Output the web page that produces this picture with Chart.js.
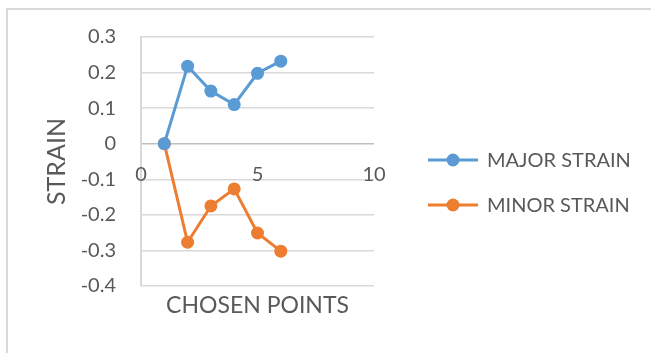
<!DOCTYPE html>
<html>
<head>
<meta charset="utf-8">
<script src="https://cdn.jsdelivr.net/npm/chart.js@4"></script>
<style>
  html, body { margin: 0; padding: 0; background: #fff; }
  #wrap { position: relative; width: 651px; height: 353px; overflow: hidden; }
  #frame { position: absolute; left: 6px; top: 8px; width: 700px; height: 400px;
           border-left: 2px solid #d9d9d9; border-top: 2px solid #d9d9d9; }
  canvas { position: absolute; left: 0; top: 0; }
</style>
</head>
<body>
<div id="wrap">
  <div id="frame"></div>
  <canvas id="chart" width="651" height="353"></canvas>
</div>
<script>
// data
const points = [1, 2, 3, 4, 5, 6];
const majorStrain = [0, 0.218, 0.148, 0.110, 0.198, 0.232];
const minorStrain = [0, -0.277, -0.175, -0.127, -0.251, -0.302];
const xTicks = [0, 5, 10];
const seriesNames = ['MAJOR STRAIN', 'MINOR STRAIN'];

const FONT = 'Lato, "Open Sans", sans-serif';
const TEXT = '#595959';
const GRID = '#d9d9d9';

const toXY = (ys)=> points.map((x,i)=>({ x, y: ys[i] }));

// x tick labels sit just under the zero line, like Excel does
const zeroAxisLabels = {
  id: 'zeroAxisLabels',
  afterDraw(chart){
    const { ctx, scales: { x, y } } = chart;
    const y0 = y.getPixelForValue(0);
    ctx.save();
    ctx.font = '20px ' + FONT;
    ctx.fillStyle = TEXT;
    ctx.textAlign = 'center';
    ctx.textBaseline = 'middle';
    xTicks.forEach(v=> ctx.fillText(String(v), x.getPixelForValue(v), y0 + 31));
    ctx.restore();
  }
};

// legend on the right: line + dot + name
const sideLegend = {
  id: 'sideLegend',
  afterDraw(chart){
    const { ctx } = chart;
    ctx.save();
    ctx.font = '20px ' + FONT;
    ctx.textBaseline = 'middle';
    chart.data.datasets.forEach((ds, i)=>{
      const ly = 160 + i * 45;
      ctx.strokeStyle = ds.borderColor;
      ctx.lineWidth = 3;
      ctx.beginPath();
      ctx.moveTo(428, ly);
      ctx.lineTo(478, ly);
      ctx.stroke();
      ctx.fillStyle = ds.backgroundColor;
      ctx.beginPath();
      ctx.arc(453, ly, 6.5, 0, Math.PI * 2);
      ctx.fill();
      ctx.fillStyle = TEXT;
      ctx.fillText(ds.label, 487, ly + 1);
    });
    ctx.restore();
  }
};

new Chart(document.getElementById('chart'), {
  type: 'scatter',
  data: {
    datasets: [
      { label: seriesNames[0], data: toXY(majorStrain), showLine: true,
        borderColor: '#5b9bd5', backgroundColor: '#5b9bd5', borderWidth: 3,
        pointRadius: 6.5, pointHoverRadius: 6.5, pointBorderWidth: 0 },
      { label: seriesNames[1], data: toXY(minorStrain), showLine: true,
        borderColor: '#ed7d31', backgroundColor: '#ed7d31', borderWidth: 3,
        pointRadius: 6.5, pointHoverRadius: 6.5, pointBorderWidth: 0 }
    ]
  },
  options: {
    responsive: false,
    animation: false,
    layout: { padding: { left: 20, top: 32, right: 277, bottom: 34 } },
    plugins: { legend: { display: false }, tooltip: { enabled: false } },
    scales: {
      x: {
        type: 'linear', min: 0, max: 10,
        grid: { display: false },
        border: { display: false },
        ticks: { display: false },
        title: { display: true, text: 'CHOSEN POINTS', color: TEXT,
                 font: { family: FONT, size: 23 }, padding: { top: 0, bottom: 0 } },
        afterFit: (s)=>{ s.height = 33; }
      },
      y: {
        min: -0.4, max: 0.3,
        ticks: { stepSize: 0.1, color: TEXT, padding: 25,
                 font: { family: FONT, size: 20 },
                 callback: (v)=> String(Math.round(v * 10) / 10) },
        grid: { drawTicks: false, lineWidth: 1.5,
                color: (c)=> (c.tick && Math.abs(c.tick.value) < 1e-9) ? '#bfbfbf' : GRID },
        border: { display: true, color: GRID, width: 2 },
        title: { display: true, text: 'STRAIN', color: TEXT,
                 font: { family: FONT, size: 25 }, padding: { top: 22, bottom: 0 } },
        afterFit: (s)=>{ s.width = 141 - 20; }
      }
    }
  },
  plugins: [zeroAxisLabels, sideLegend]
});
</script>
</body>
</html>
